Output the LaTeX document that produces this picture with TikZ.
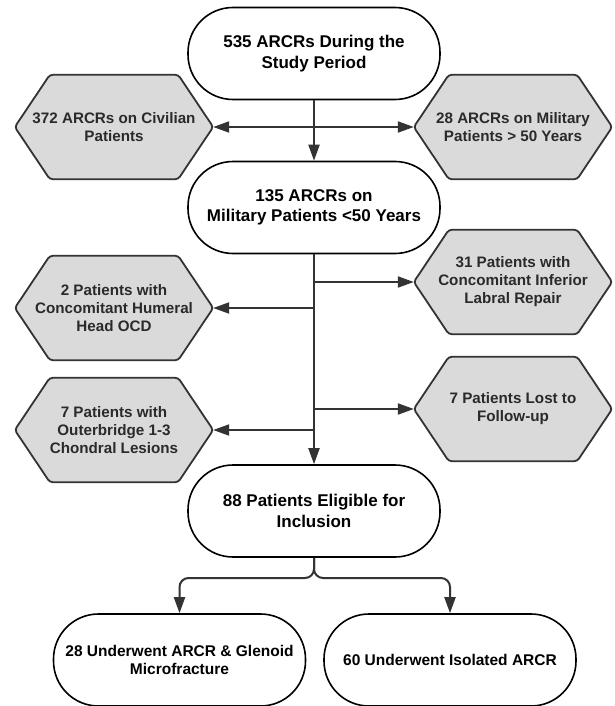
\documentclass[tikz,border=0pt]{standalone}
\usepackage{fontspec}
\setmainfont{Liberation Sans}
\usetikzlibrary{arrows.meta,backgrounds}
\definecolor{lineg}{HTML}{333333}
\definecolor{hexfill}{HTML}{DADADA}
\definecolor{hextext}{HTML}{2A2A2A}
\tikzset{
  stadium/.style={draw=black, line width=1.6pt, fill=white, rounded corners=45pt,
    minimum width=252pt, minimum height=92pt, inner sep=0pt, align=center,
    font=\bfseries\fontsize{17}{20.5}\selectfont},
  stadiumsm/.style={stadium, font=\bfseries\fontsize{15.5}{18}\selectfont},
  hexbox/.style={minimum width=198pt, minimum height=104pt, inner sep=0pt, align=center,
    text=hextext, font=\bfseries\fontsize{15.2}{18}\selectfont},
  hexline/.style={draw=lineg, line width=1.8pt, fill=hexfill, rounded corners=3pt},
  conn/.style={draw=lineg, line width=2pt},
  arr/.style={conn, -{Triangle[length=16pt,width=11pt]}},
}
\newcommand{\hexshape}[1]{\path[hexline] (#1.west) -- ([xshift=35pt]#1.north west) -- ([xshift=-35pt]#1.north east) -- (#1.east) -- ([xshift=-35pt]#1.south east) -- ([xshift=35pt]#1.south west) -- cycle;}
\begin{document}
\begin{tikzpicture}[x=1pt,y=-1pt]
\useasboundingbox (0,0) rectangle (615,706);
% stadium nodes
\node[stadium] (N1) at (314,53.5) {535 ARCRs During the\\Study Period};
\node[stadium] (N2) at (314,207.5) {135 ARCRs on\\Military Patients <50 Years};
\node[stadium] (N3) at (314,511) {88 Patients Eligible for\\Inclusion};
\node[stadiumsm] (N4) at (179.5,660) {28 Underwent ARCR \& Glenoid\\Microfracture};
\node[stadiumsm] (N5) at (450,660) {60 Underwent Isolated ARCR};
% hexagon nodes
\node[hexbox] (HA) at (114,127) {372 ARCRs on Civilian\\Patients};
\node[hexbox] (HB) at (513,127) {28 ARCRs on Military\\Patients > 50 Years};
\node[hexbox] (HC) at (513,282) {31 Patients with\\Concomitant Inferior\\Labral Repair};
\node[hexbox] (HD) at (114,308) {2 Patients with\\Concomitant Humeral\\Head OCD};
\node[hexbox] (HE) at (513,409) {7 Patients Lost to\\Follow-up};
\node[hexbox] (HF) at (114,430) {7 Patients with\\Outerbridge 1-3\\Chondral Lesions};
\begin{scope}[on background layer]
\fill[white] (0,0) rectangle (615,706);
\hexshape{HA}
\hexshape{HB}
\hexshape{HC}
\hexshape{HD}
\hexshape{HE}
\hexshape{HF}
\end{scope}
% connectors
\coordinate (r1) at (N1.south |- HA.east);
\draw[arr] (N1.south) -- (N2.north);
\draw[arr] (r1) -- (HA.east);
\draw[arr] (r1) -- (HB.west);
\draw[arr] (N2.south) -- (N3.north);
\draw[arr] (N2.south |- HC.west) -- (HC.west);
\draw[arr] (N2.south |- HD.east) -- (HD.east);
\draw[arr] (N2.south |- HE.west) -- (HE.west);
\draw[arr] (N2.south |- HF.east) -- (HF.east);
\coordinate (br) at (314,578);
\draw[arr, rounded corners=9pt] (N3.south) |- (N4.north |- br) -- (N4.north);
\draw[arr, rounded corners=9pt] (N3.south) |- (N5.north |- br) -- (N5.north);
\end{tikzpicture}
\end{document}
